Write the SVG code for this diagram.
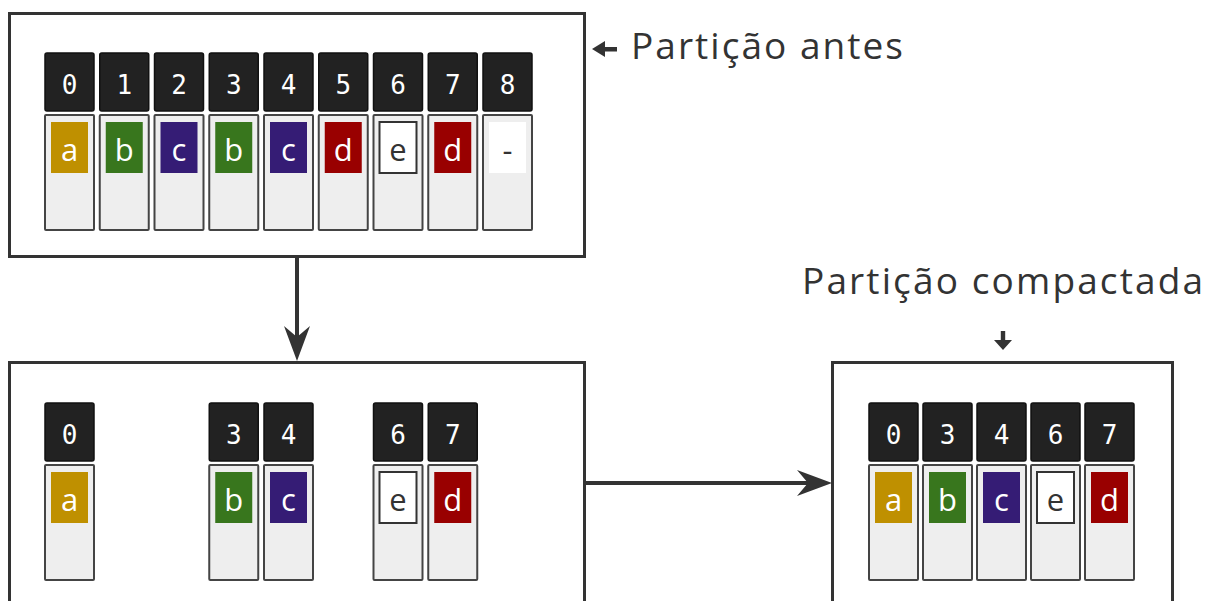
<svg xmlns="http://www.w3.org/2000/svg" width="1213" height="601" viewBox="0 0 1213 601">
<style>
.frame{fill:#fff;stroke:#333;stroke-width:3}
.hd{fill:#222;stroke:#111;stroke-width:1.5}
.bd{fill:#eee;stroke:#444;stroke-width:2}
.num{font-family:"DejaVu Sans Mono",monospace;font-size:26px;fill:#fff;text-anchor:middle}
.let{font-family:"Open Sans","DejaVu Sans",sans-serif;font-size:31px;fill:#fff;text-anchor:middle}
.let.dk{fill:#333}
.a{fill:#bf9000}.b{fill:#38761d}.c{fill:#351c75}.d{fill:#990000}
.e{fill:#fff;stroke:#333;stroke-width:2}
.n{fill:#fff}
.lbl{font-family:"Open Sans",Lato,sans-serif;font-size:37px;fill:#333;font-variant-ligatures:none}
.conn{stroke:#333;stroke-width:4;fill:none}
</style>
<defs>
<marker id="ah" viewBox="0 0 35 26" refX="11" refY="13" markerWidth="35" markerHeight="26" markerUnits="userSpaceOnUse" orient="auto">
<path d="M0,0 L35,13 L0,26 L11,13 Z" fill="#333"/>
</marker>
</defs>
<rect width="1213" height="601" fill="#fff"/>

<g id="before">
<rect class="frame" x="9.5" y="13.5" width="575" height="243"/>
<g id="b0" transform="translate(45,53)"><rect class="hd" x="0" y="0" width="49" height="58" rx="2"/><text class="num" x="24.5" y="41">0</text><rect class="bd" x="0" y="62" width="49" height="115" rx="1"/><rect class="a" x="6" y="69" width="37" height="51"/><text class="let" x="24.5" y="107.5">a</text></g>
<g id="b1" transform="translate(99.75,53)"><rect class="hd" x="0" y="0" width="49" height="58" rx="2"/><text class="num" x="24.5" y="41">1</text><rect class="bd" x="0" y="62" width="49" height="115" rx="1"/><rect class="b" x="6" y="69" width="37" height="51"/><text class="let" x="24.5" y="107.5">b</text></g>
<g id="b2" transform="translate(154.5,53)"><rect class="hd" x="0" y="0" width="49" height="58" rx="2"/><text class="num" x="24.5" y="41">2</text><rect class="bd" x="0" y="62" width="49" height="115" rx="1"/><rect class="c" x="6" y="69" width="37" height="51"/><text class="let" x="24.5" y="107.5">c</text></g>
<g id="b3" transform="translate(209.25,53)"><rect class="hd" x="0" y="0" width="49" height="58" rx="2"/><text class="num" x="24.5" y="41">3</text><rect class="bd" x="0" y="62" width="49" height="115" rx="1"/><rect class="b" x="6" y="69" width="37" height="51"/><text class="let" x="24.5" y="107.5">b</text></g>
<g id="b4" transform="translate(264,53)"><rect class="hd" x="0" y="0" width="49" height="58" rx="2"/><text class="num" x="24.5" y="41">4</text><rect class="bd" x="0" y="62" width="49" height="115" rx="1"/><rect class="c" x="6" y="69" width="37" height="51"/><text class="let" x="24.5" y="107.5">c</text></g>
<g id="b5" transform="translate(318.75,53)"><rect class="hd" x="0" y="0" width="49" height="58" rx="2"/><text class="num" x="24.5" y="41">5</text><rect class="bd" x="0" y="62" width="49" height="115" rx="1"/><rect class="d" x="6" y="69" width="37" height="51"/><text class="let" x="24.5" y="107.5">d</text></g>
<g id="b6" transform="translate(373.5,53)"><rect class="hd" x="0" y="0" width="49" height="58" rx="2"/><text class="num" x="24.5" y="41">6</text><rect class="bd" x="0" y="62" width="49" height="115" rx="1"/><rect class="e" x="6" y="69" width="37" height="51"/><text class="let dk" x="24.5" y="107.5">e</text></g>
<g id="b7" transform="translate(428.25,53)"><rect class="hd" x="0" y="0" width="49" height="58" rx="2"/><text class="num" x="24.5" y="41">7</text><rect class="bd" x="0" y="62" width="49" height="115" rx="1"/><rect class="d" x="6" y="69" width="37" height="51"/><text class="let" x="24.5" y="107.5">d</text></g>
<g id="b8" transform="translate(483,53)"><rect class="hd" x="0" y="0" width="49" height="58" rx="2"/><text class="num" x="24.5" y="41">8</text><rect class="bd" x="0" y="62" width="49" height="115" rx="1"/><rect class="n" x="6" y="69" width="37" height="51"/><text class="let dk" x="24.5" y="107.5">-</text></g>
</g>

<g id="gaps">
<rect class="frame" x="9.5" y="362.5" width="575" height="260"/>
<g id="g0" transform="translate(45,403)"><rect class="hd" x="0" y="0" width="49" height="58" rx="2"/><text class="num" x="24.5" y="41">0</text><rect class="bd" x="0" y="62" width="49" height="115" rx="1"/><rect class="a" x="6" y="69" width="37" height="51"/><text class="let" x="24.5" y="107.5">a</text></g>
<g id="g3" transform="translate(209.25,403)"><rect class="hd" x="0" y="0" width="49" height="58" rx="2"/><text class="num" x="24.5" y="41">3</text><rect class="bd" x="0" y="62" width="49" height="115" rx="1"/><rect class="b" x="6" y="69" width="37" height="51"/><text class="let" x="24.5" y="107.5">b</text></g>
<g id="g4" transform="translate(264,403)"><rect class="hd" x="0" y="0" width="49" height="58" rx="2"/><text class="num" x="24.5" y="41">4</text><rect class="bd" x="0" y="62" width="49" height="115" rx="1"/><rect class="c" x="6" y="69" width="37" height="51"/><text class="let" x="24.5" y="107.5">c</text></g>
<g id="g6" transform="translate(373.5,403)"><rect class="hd" x="0" y="0" width="49" height="58" rx="2"/><text class="num" x="24.5" y="41">6</text><rect class="bd" x="0" y="62" width="49" height="115" rx="1"/><rect class="e" x="6" y="69" width="37" height="51"/><text class="let dk" x="24.5" y="107.5">e</text></g>
<g id="g7" transform="translate(428.25,403)"><rect class="hd" x="0" y="0" width="49" height="58" rx="2"/><text class="num" x="24.5" y="41">7</text><rect class="bd" x="0" y="62" width="49" height="115" rx="1"/><rect class="d" x="6" y="69" width="37" height="51"/><text class="let" x="24.5" y="107.5">d</text></g>
</g>

<g id="compacted">
<rect class="frame" x="832.5" y="362.5" width="340" height="260"/>
<g id="c0" transform="translate(869,403)"><rect class="hd" x="0" y="0" width="49" height="58" rx="2"/><text class="num" x="24.5" y="41">0</text><rect class="bd" x="0" y="62" width="49" height="115" rx="1"/><rect class="a" x="6" y="69" width="37" height="51"/><text class="let" x="24.5" y="107.5">a</text></g>
<g id="c3" transform="translate(923,403)"><rect class="hd" x="0" y="0" width="49" height="58" rx="2"/><text class="num" x="24.5" y="41">3</text><rect class="bd" x="0" y="62" width="49" height="115" rx="1"/><rect class="b" x="6" y="69" width="37" height="51"/><text class="let" x="24.5" y="107.5">b</text></g>
<g id="c4" transform="translate(977,403)"><rect class="hd" x="0" y="0" width="49" height="58" rx="2"/><text class="num" x="24.5" y="41">4</text><rect class="bd" x="0" y="62" width="49" height="115" rx="1"/><rect class="c" x="6" y="69" width="37" height="51"/><text class="let" x="24.5" y="107.5">c</text></g>
<g id="c6" transform="translate(1031,403)"><rect class="hd" x="0" y="0" width="49" height="58" rx="2"/><text class="num" x="24.5" y="41">6</text><rect class="bd" x="0" y="62" width="49" height="115" rx="1"/><rect class="e" x="6" y="69" width="37" height="51"/><text class="let dk" x="24.5" y="107.5">e</text></g>
<g id="c7" transform="translate(1085,403)"><rect class="hd" x="0" y="0" width="49" height="58" rx="2"/><text class="num" x="24.5" y="41">7</text><rect class="bd" x="0" y="62" width="49" height="115" rx="1"/><rect class="d" x="6" y="69" width="37" height="51"/><text class="let" x="24.5" y="107.5">d</text></g>
</g>

<g id="label-before">
<path d="M592,49 L605,41 L605,47 L617,47 L617,51.5 L605,51.5 L605,57 Z" fill="#333"/>
<text class="lbl" x="631" y="59" textLength="272" lengthAdjust="spacing">Partição antes</text>
</g>

<g id="label-compacted">
<text class="lbl" x="802" y="294" textLength="401" lengthAdjust="spacing">Partição compactada</text>
<path d="M1003,350 L994,340 L1000.8,340 L1000.8,331 L1005.2,331 L1005.2,340 L1012,340 Z" fill="#333"/>
</g>

<g id="connectors">
<line class="conn" x1="297" y1="257" x2="297" y2="337" marker-end="url(#ah)"/>
<line class="conn" x1="585" y1="483" x2="808" y2="483" marker-end="url(#ah)"/>
</g>
</svg>
